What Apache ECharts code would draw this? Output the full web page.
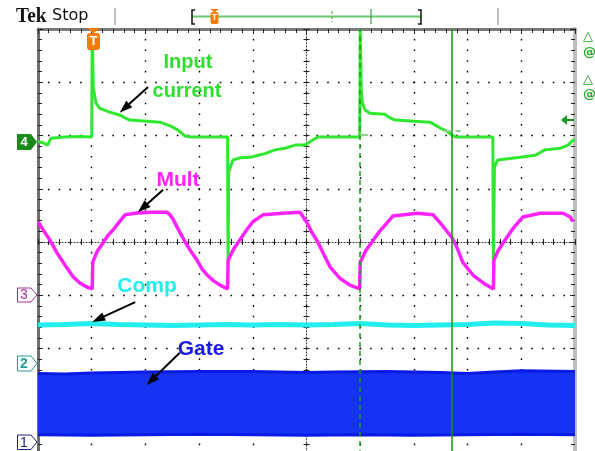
<!DOCTYPE html>
<html><head><meta charset="utf-8">
<script src="https://cdn.jsdelivr.net/npm/echarts@6/dist/echarts.min.js"></script>
<style>html,body{margin:0;padding:0;background:#fff}#c{width:595px;height:451px}</style>
</head><body><div id="c"></div>
<script>
// ---- data (screen divisions: x 0..10, y -4..4, centre = 0) ----
const inputCurrent = [
  [0,1.89],[0.1,1.86],[0.18,1.82],[0.24,1.95],[0.5,1.97],[0.8,1.98],[1.0,1.97],
  [1.01,3.85],[1.03,2.89],[1.08,2.61],[1.15,2.51],[1.34,2.44],[1.53,2.38],[1.62,2.33],[1.71,2.29],
  [2.27,2.25],[2.46,2.18],[2.61,2.10],[2.74,1.99],[2.83,1.97],[3.2,1.97],[3.53,1.97],
  [3.54,-0.42],[3.55,1.31],[3.63,1.54],[3.76,1.58],[3.95,1.59],[4.10,1.63],[4.23,1.66],
  [4.41,1.73],[4.60,1.76],[4.79,1.82],[4.97,1.82],[5.21,1.97],[5.6,1.97],[5.99,1.97],
  [6.0,3.98],[6.02,2.85],[6.04,2.61],[6.09,2.48],[6.18,2.42],[6.46,2.40],[6.52,2.35],[6.65,2.29],
  [7.30,2.25],[7.39,2.20],[7.49,2.14],[7.62,2.08],[7.73,1.99],[7.80,1.97],[8.2,1.97],[8.47,1.97],
  [8.48,-0.47],[8.50,1.40],[8.56,1.54],[8.98,1.59],[9.26,1.63],[9.44,1.73],[9.72,1.76],[9.87,1.82],[9.96,1.91],[10,1.92]
];
const mult = [
  [0,0.38],[0.10,0.22],[0.22,0.04],[0.35,-0.20],[0.54,-0.49],[0.65,-0.65],[0.78,-0.77],[0.90,-0.84],[1.01,-0.88],
  [1.02,-0.38],[1.10,-0.18],[1.21,-0.02],[1.30,0.12],[1.40,0.23],[1.50,0.36],[1.62,0.51],[1.80,0.54],[2.09,0.56],[2.40,0.56],
  [2.46,0.51],[2.52,0.42],[2.59,0.28],[2.74,0.00],[2.85,-0.18],[2.96,-0.34],[3.05,-0.50],[3.15,-0.62],[3.27,-0.73],[3.39,-0.81],[3.53,-0.88],
  [3.54,-0.34],[3.65,-0.12],[3.76,0.04],[3.88,0.22],[4.00,0.38],[4.19,0.51],[4.56,0.54],[4.88,0.56],
  [5.01,0.36],[5.10,0.18],[5.21,0.00],[5.33,-0.25],[5.44,-0.47],[5.62,-0.68],[5.81,-0.81],[5.99,-0.88],
  [6.00,-0.38],[6.10,-0.17],[6.22,0.00],[6.36,0.20],[6.50,0.36],[6.61,0.49],[7.06,0.54],[7.36,0.51],
  [7.49,0.36],[7.60,0.22],[7.71,0.08],[7.80,-0.10],[7.91,-0.38],[8.10,-0.62],[8.32,-0.79],[8.48,-0.88],
  [8.49,-0.34],[8.57,-0.16],[8.66,-0.02],[8.85,0.26],[9.03,0.47],[9.35,0.54],[9.78,0.54],[9.91,0.47],[9.96,0.38]
];
const comp = [
  [0,-1.56],[0.5,-1.55],[1.0,-1.53],[1.5,-1.55],[2.0,-1.56],[2.5,-1.57],[3.0,-1.56],[3.5,-1.55],
  [4.0,-1.56],[4.5,-1.55],[5.0,-1.56],[5.5,-1.55],[6.0,-1.53],[6.5,-1.56],[7.0,-1.57],[7.5,-1.56],
  [8.0,-1.55],[8.5,-1.52],[9.0,-1.53],[9.5,-1.56],[10,-1.57]
];
const gateTop = [
  [0,-2.47],[0.5,-2.48],[1.0,-2.46],[2.0,-2.44],[3.0,-2.43],[4.0,-2.43],[5.0,-2.45],[5.5,-2.44],
  [6.5,-2.43],[7.5,-2.45],[8.0,-2.47],[8.5,-2.44],[9.0,-2.42],[10,-2.43]
];
const gateBottom = [
  [0,-3.62],[1,-3.63],[2,-3.62],[3,-3.61],[4,-3.62],[5,-3.63],[6,-3.62],[7,-3.63],[8,-3.62],[9,-3.61],[10,-3.62]
];
const cursorPositions = [6.0, 7.71];
const annotationArrows = [
  [[2.05,2.91],[1.61,2.51]],
  [[2.33,0.98],[1.95,0.64]],
  [[1.81,-1.13],[1.12,-1.45]],
  [[2.64,-2.08],[2.11,-2.60]]
];
const traceLabels = ['Input', 'current', 'Mult', 'Comp', 'Gate'];

// ---- chart ----
const GREEN = '#30e830', MAG = '#ff22ff', CYAN = '#22eeee', BLUE = '#1632f2', BLUE_EDGE = '#0a1ae6';
const chart = echarts.init(document.getElementById('c'), null, {renderer: 'canvas'});
const G = {left: 38, top: 29, width: 537, height: 426, containLabel: false, outerBoundsMode: 'none'};
const tickC = '#222';
function crossX(idx, inside, showLine) {
  return {gridIndex: idx, type: 'value', min: -5, max: 5, interval: 1, position: 'bottom',
    axisLine: {show: showLine, onZero: true, lineStyle: {color: '#333', width: 1, type: [1, 2]}},
    axisTick: {show: true, inside: inside, length: 3, lineStyle: {color: tickC}},
    minorTick: {show: true, splitNumber: 5, length: 3, lineStyle: {color: tickC}},
    axisLabel: {show: false}, splitLine: {show: false}};
}
function crossY(idx, inside, showLine) {
  return {gridIndex: idx, type: 'value', min: -4, max: 4, interval: 1, position: 'left',
    axisLine: {show: showLine, onZero: true, lineStyle: {color: '#333', width: 1, type: [1, 2]}},
    axisTick: {show: true, inside: inside, length: 3, lineStyle: {color: tickC}},
    minorTick: {show: true, splitNumber: 5, length: 3, lineStyle: {color: tickC}},
    axisLabel: {show: false}, splitLine: {show: false}};
}
const lineBase = {type: 'line', showSymbol: false, symbol: 'none', animation: false, silent: true,
  xAxisIndex: 0, yAxisIndex: 0};

const option = {
  backgroundColor: '#ffffff',
  animation: false,
  grid: [Object.assign({}, G), Object.assign({}, G), Object.assign({}, G)],
  xAxis: [
    {gridIndex: 0, type: 'value', min: 0, max: 10, interval: 1, position: 'top',
      axisLine: {show: true, onZero: false, lineStyle: {color: '#7a7a7a', width: 3}},
      axisTick: {show: true, inside: true, length: 5, lineStyle: {color: tickC}},
      minorTick: {show: true, splitNumber: 5, length: 4, lineStyle: {color: tickC}},
      axisLabel: {show: false},
      splitLine: {show: true, lineStyle: {color: '#000', width: 1.4, type: [1.6, 9.05], dashOffset: 0.8}}},
    crossX(1, false, true),
    crossX(2, true, false)
  ],
  yAxis: [
    {gridIndex: 0, type: 'value', min: -4, max: 4, interval: 1, position: 'left',
      axisLine: {show: true, onZero: false, lineStyle: {color: '#6e6e6e', width: 3}},
      axisTick: {show: true, inside: true, length: 5, lineStyle: {color: tickC}},
      minorTick: {show: true, splitNumber: 5, length: 4, lineStyle: {color: tickC}},
      axisLabel: {show: false},
      splitLine: {show: true, lineStyle: {color: '#000', width: 1.4, type: [1.6, 9.14], dashOffset: 0.8}}},
    {gridIndex: 0, type: 'value', min: -4, max: 4, interval: 1, position: 'right',
      axisLine: {show: true, onZero: false, lineStyle: {color: '#bdbdbd', width: 4}},
      axisTick: {show: true, inside: true, length: 5, lineStyle: {color: tickC}},
      minorTick: {show: true, splitNumber: 5, length: 4, lineStyle: {color: tickC}},
      axisLabel: {show: false}, splitLine: {show: false}},
    crossY(1, false, true),
    crossY(2, true, false)
  ],
  series: [
    {type: 'custom', name: 'Gate band', xAxisIndex: 0, yAxisIndex: 0, data: gateTop,
      encode: {x: 0, y: 1}, silent: true, animation: false,
      renderItem: function (params, api) {
        if (params.dataIndex !== 0) return null;
        const pts = gateTop.map(p => api.coord(p))
          .concat(gateBottom.slice().reverse().map(p => api.coord(p)));
        return {type: 'polygon', shape: {points: pts}, style: {fill: BLUE, stroke: null}};
      }},
    Object.assign({}, lineBase, {name: 'Gate top', data: gateTop, lineStyle: {color: BLUE_EDGE, width: 3}}),
    Object.assign({}, lineBase, {name: 'Gate bottom', data: gateBottom, lineStyle: {color: BLUE_EDGE, width: 3}}),
    Object.assign({}, lineBase, {name: 'Comp', data: comp, lineStyle: {color: CYAN, width: 5},
      markLine: {silent: true, animation: false, symbol: ['none', 'triangle'], symbolSize: [9, 13],
        label: {show: false}, lineStyle: {color: '#000', width: 2, type: 'solid'},
        data: annotationArrows.map(a => [{coord: a[0]}, {coord: a[1]}])}}),
    Object.assign({}, lineBase, {name: 'Input current', data: inputCurrent, lineStyle: {color: GREEN, width: 3}}),
    Object.assign({}, lineBase, {name: 'Mult', data: mult, lineStyle: {color: MAG, width: 3.5},
      markLine: {silent: true, animation: false, symbol: ['none', 'none'], label: {show: false},
        lineStyle: {color: '#16a016', width: 1.5},
        data: [
          {xAxis: cursorPositions[0], lineStyle: {type: [5, 4], color: '#16a016', width: 1.5}},
          {xAxis: cursorPositions[1], lineStyle: {type: 'solid', color: '#109410', width: 1.5}},
          [{coord: [6.0, 2.02], lineStyle: {color: '#8fcf8f', width: 2}}, {coord: [6.15, 2.02]}],
          [{coord: [7.55, 2.08], lineStyle: {color: '#8fcf8f', width: 2}}, {coord: [7.87, 2.08]}]
        ]}})
  ],
  graphic: [
    // header
    {type: 'text', x: 16, y: 16, scaleX: 0.88, style: {text: 'Tek', font: 'bold 22px "Liberation Serif"', fill: '#111', textVerticalAlign: 'middle'}},
    {type: 'text', x: 52, y: 16, style: {text: 'Stop', font: '16px "DejaVu Sans"', fill: '#111', textVerticalAlign: 'middle'}},
    {type: 'line', shape: {x1: 115, y1: 8, x2: 115, y2: 25}, style: {stroke: '#aaa', lineWidth: 1.5}},
    {type: 'line', shape: {x1: 498, y1: 8, x2: 498, y2: 25}, style: {stroke: '#aaa', lineWidth: 1.5}},
    {type: 'line', shape: {x1: 192, y1: 16.5, x2: 421, y2: 16.5}, style: {stroke: '#6cc86c', lineWidth: 2}},
    {type: 'polyline', shape: {points: [[195, 10], [192, 10], [192, 24], [195, 24]]}, style: {stroke: '#111', lineWidth: 1.5, fill: null}},
    {type: 'polyline', shape: {points: [[418, 10], [421, 10], [421, 24], [418, 24]]}, style: {stroke: '#111', lineWidth: 1.5, fill: null}},
    {type: 'line', shape: {x1: 332, y1: 11, x2: 332, y2: 22}, style: {stroke: '#55bb55', lineWidth: 1.2, lineDash: [3, 2]}},
    {type: 'line', shape: {x1: 371, y1: 9, x2: 371, y2: 24}, style: {stroke: '#3a9e3a', lineWidth: 1.2}},
    {type: 'polygon', shape: {points: [[210, 9], [219, 9], [214.5, 12.5]]}, style: {fill: '#f57c00'}},
    {type: 'rect', shape: {x: 210.5, y: 12, width: 8, height: 12, r: 2}, style: {fill: '#f57c00'}},
    {type: 'text', x: 214.5, y: 18, style: {text: 'T', font: 'bold 9px "Liberation Sans"', fill: '#fff', textAlign: 'center', textVerticalAlign: 'middle'}},
    // trigger marker on graticule
    {type: 'polygon', z: 20, shape: {points: [[87, 28], [100, 28], [93.5, 33.5]]}, style: {fill: '#f57c00'}},
    {type: 'rect', z: 20, shape: {x: 87, y: 33, width: 13, height: 17, r: 3}, style: {fill: '#f57c00'}},
    {type: 'text', z: 21, x: 93.5, y: 41, style: {text: 'T', font: 'bold 13px "Liberation Sans"', fill: '#fff', textAlign: 'center', textVerticalAlign: 'middle'}},
    // channel markers
    {type: 'polygon', shape: {points: [[17, 134], [31, 134], [37, 142], [31, 150], [17, 150]]}, style: {fill: '#1a8c1a'}},
    {type: 'text', x: 24, y: 142.5, style: {text: '4', font: 'bold 13px "Liberation Sans"', fill: '#fff', textAlign: 'center', textVerticalAlign: 'middle'}},
    {type: 'polygon', shape: {points: [[17.5, 288], [31, 288], [37, 295], [31, 302], [17.5, 302]]}, style: {fill: '#fff', stroke: '#a030a0', lineWidth: 1}},
    {type: 'text', x: 24, y: 295.5, style: {text: '3', font: '14px "Liberation Sans"', fill: '#a030a0', textAlign: 'center', textVerticalAlign: 'middle'}},
    {type: 'polygon', shape: {points: [[17.5, 356], [31, 356], [37, 363.5], [31, 371], [17.5, 371]]}, style: {fill: '#fff', stroke: '#2a9a9a', lineWidth: 1}},
    {type: 'text', x: 24, y: 364, style: {text: '2', font: 'bold 14px "Liberation Sans"', fill: '#2a9a9a', textAlign: 'center', textVerticalAlign: 'middle'}},
    {type: 'polygon', shape: {points: [[17.5, 435], [31, 435], [37, 442], [31, 449.5], [17.5, 449.5]]}, style: {fill: '#fff', stroke: '#20208a', lineWidth: 1}},
    {type: 'text', x: 24, y: 443, style: {text: '1', font: '14px "Liberation Sans"', fill: '#20208a', textAlign: 'center', textVerticalAlign: 'middle'}},
    // right-hand readouts
    {type: 'text', x: 583, y: 37, style: {text: '△', font: 'bold 13px "DejaVu Sans"', fill: '#22a822', textVerticalAlign: 'middle'}},
    {type: 'text', x: 583, y: 53, style: {text: '@', font: 'bold 13px "DejaVu Sans"', fill: '#22a822', textVerticalAlign: 'middle'}},
    {type: 'text', x: 583, y: 80, style: {text: '△', font: 'bold 13px "DejaVu Sans"', fill: '#22a822', textVerticalAlign: 'middle'}},
    {type: 'text', x: 583, y: 95, style: {text: '@', font: 'bold 13px "DejaVu Sans"', fill: '#22a822', textVerticalAlign: 'middle'}},
    {type: 'polygon', z: 20, shape: {points: [[561, 120], [567, 115], [567, 125]]}, style: {fill: '#1a9a1a'}},
    {type: 'line', z: 20, shape: {x1: 566, y1: 120, x2: 574, y2: 120}, style: {stroke: '#1a9a1a', lineWidth: 2}},
    // trace labels
    {type: 'text', z: 30, x: 188, y: 62, style: {text: traceLabels[0], font: 'bold 20px "Liberation Sans"', fill: '#2ee02e', textAlign: 'center', textVerticalAlign: 'middle'}},
    {type: 'text', z: 30, x: 187, y: 91, style: {text: traceLabels[1], font: 'bold 20px "Liberation Sans"', fill: '#2ee02e', textAlign: 'center', textVerticalAlign: 'middle'}},
    {type: 'text', z: 30, x: 178, y: 180, style: {text: traceLabels[2], font: 'bold 21px "Liberation Sans"', fill: MAG, textAlign: 'center', textVerticalAlign: 'middle'}},
    {type: 'text', z: 30, x: 147, y: 286, style: {text: traceLabels[3], font: 'bold 21px "Liberation Sans"', fill: CYAN, textAlign: 'center', textVerticalAlign: 'middle'}},
    {type: 'text', z: 30, x: 201, y: 349, style: {text: traceLabels[4], font: 'bold 21px "Liberation Sans"', fill: '#1a1ae6', textAlign: 'center', textVerticalAlign: 'middle'}}
  ]
};
chart.setOption(option);
</script>
</body></html>
